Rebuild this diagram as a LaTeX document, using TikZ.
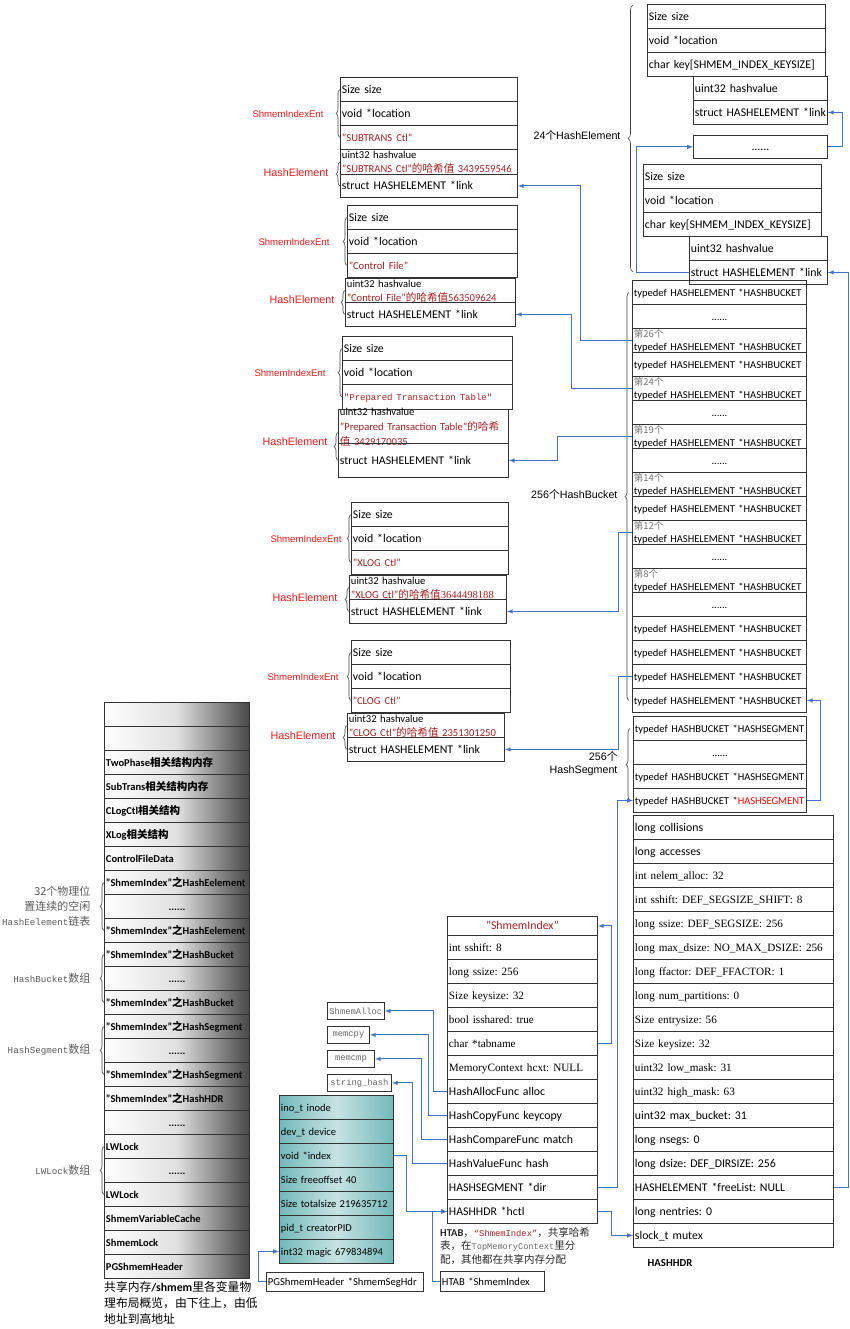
\documentclass[tikz,border=0pt]{standalone}
\usepackage{fontspec}
\setmainfont{Carlito}
\newfontfamily\tnr{Liberation Serif}
\newfontfamily\arial{Liberation Sans}
\newfontfamily\mono{Liberation Mono}
\newfontfamily\cjk{Noto Sans CJK SC}
\usetikzlibrary{decorations.pathreplacing}
\definecolor{linkblue}{RGB}{68,114,196}
\definecolor{keyred}{RGB}{165,30,30}
\definecolor{labred}{RGB}{240,25,25}
\frenchspacing
\newcommand\bkt{typedef HASHELEMENT *HASHBUCKET}
\newcommand\sgt{typedef HASHBUCKET *HASHSEGMENT}
\newcommand\bkn[1]{{\cjk\color{black!55}\fontsize{9.5}{10}\selectfont 第#1个}\\\bkt}
\newcommand\dotrow{\makebox[\hsize]{......}}
\newcommand\tn{\tnr\fontsize{11.2}{13}\selectfont}
\newcommand\kr[1]{\textcolor{keyred}{\fontsize{10.6}{14}\selectfont #1}}
\newcommand\shi[1]{"ShmemIndex"{\cjk 之}#1}
\newcommand\sunl[1]{{\mono\fontsize{9.2}{11}\selectfont #1}}
\begin{document}
\begin{tikzpicture}[x=1pt,y=-1pt,>=latex,font=\fontsize{11.8}{14}\selectfont]
    \tikzstyle{cell} = [draw=black!80,line width=.9pt,anchor=north west,inner xsep=1.5pt,
        inner ysep=0pt,minimum height=24pt,text height=8pt,text depth=0pt,
        execute at begin node=\hbox\bgroup,execute at end node=\egroup]
    \tikzstyle{cell2} = [draw=black!80,line width=.9pt,anchor=north west,inner xsep=1.5pt,
        inner ysep=0pt,minimum height=24pt,align=left]
    \tikzstyle{hashrow} = [cell2,font=\fontsize{10.6}{14}\selectfont,text height=8.5pt,text depth=14.5pt]
    \tikzstyle{memrow} = [cell,text width=142pt,left color=white,right color=black!72,
        middle color=black!12,font=\bfseries\fontsize{10.5}{12}\selectfont,text height=7.5pt]
    \tikzstyle{pgrow} = [cell,text width=111pt,left color=teal!55!white,right color=teal!55!white,
        middle color=teal!22!white,font=\fontsize{10.5}{12}\selectfont,text height=7.5pt]
    \tikzstyle{fnbox} = [draw=black!80,line width=.9pt,anchor=north west,inner xsep=2pt,inner ysep=0pt,
        minimum height=17pt,text=black!60,font=\mono\fontsize{8.8}{10}\selectfont]
    \tikzstyle{link} = [draw=linkblue,line width=1pt,->]
    \tikzstyle{brc} = [draw=black!75,line width=.6pt,decorate,decoration={brace,amplitude=4pt}]
    \tikzstyle{entlab} = [anchor=east,text=labred,font=\arial\fontsize{9.6}{11}\selectfont]
    \tikzstyle{elemlab} = [anchor=east,text=labred,font=\arial\fontsize{10.8}{12}\selectfont]
    \tikzstyle{sidelab} = [anchor=east,align=right,font=\arial\fontsize{10.7}{13}\selectfont]
    \tikzstyle{sunlab} = [anchor=east,align=right,text=black!65,font=\cjk\fontsize{11}{15}\selectfont]
    \useasboundingbox (0,0) rectangle (850,1329);

    % free HashElement chain, top right
    \node[cell,text width=175pt] (ta1) at (647,4) {Size size};
    \node[cell,text width=175pt] (ta2) at (647,28) {void *location};
    \node[cell,text width=175pt] (ta3) at (647,52) {char key[SHMEM\_INDEX\_KEYSIZE]};
    \node[cell,text width=131pt] (tb1) at (693,76) {uint32 hashvalue};
    \node[cell,text width=131pt] (tb2) at (693,100) {struct HASHELEMENT *link};
    \node[cell,text width=131pt,minimum height=23pt] (tdots) at (693,135) {\dotrow};
    \node[cell,text width=175pt] (tc1) at (643,164) {Size size};
    \node[cell,text width=175pt] (tc2) at (643,188) {void *location};
    \node[cell,text width=175pt] (tc3) at (643,212) {char key[SHMEM\_INDEX\_KEYSIZE]};
    \node[cell,text width=135pt] (td1) at (689,236) {uint32 hashvalue};
    \node[cell,text width=135pt] (td2) at (689,260) {struct HASHELEMENT *link};
    \draw[brc,decoration={brace,amplitude=5pt}] (633,272) -- (633,5);
    \node[sidelab] (l24) at (624,135) {24{\cjk 个}HashElement};

    % buckets and segments
    \foreach \t/\h/\d [count=\i] in {\bkt/8/0,\dotrow/8/0,\bkn{26}/9/14,\bkt/8/0,\bkn{24}/9/14,
            \dotrow/8/0,\bkn{19}/9/14,\dotrow/8/0,\bkn{14}/9/14,\bkt/8/0,\bkn{12}/9/14,\dotrow/8/0,
            \bkn{8}/9/14,\dotrow/8/0,\bkt/8/0,\bkt/8/0,\bkt/8/0,\bkt/8/0}
        \node[cell2,text width=171pt,font=\fontsize{10.5}{12.5}\selectfont,text height=\h pt,
            text depth=\d pt] (bk\i) at (632,{280+24*(\i-1)}) {\t};
    \foreach \t [count=\i] in {\sgt,\dotrow,\sgt,{typedef HASHBUCKET *\textcolor{red}{HASHSEGMENT}}}
        \node[cell,text width=170pt,font=\fontsize{10.5}{12}\selectfont] (sg\i) at (633,{716+24*(\i-1)}) {\t};
    \draw[brc] ([xshift=-3pt]bk18.west) -- ([xshift=-3pt]bk1.west);
    \draw[brc] ([xshift=-3pt]sg4.west) -- ([xshift=-3pt]sg1.west);
    \node[sidelab] (lbk) at (621,494) {256{\cjk 个}HashBucket};
    \node[sidelab] (lsg) at (621,764) {256{\cjk 个}\\HashSegment};

    % HASHHDR
    \foreach \t [count=\i] in {long collisions,long accesses,{\tn int nelem\_alloc: 32},
            {\tn int sshift: DEF\_SEGSIZE\_SHIFT: 8},{\tn long ssize: DEF\_SEGSIZE: 256},
            {\tn long max\_dsize: NO\_MAX\_DSIZE: 256},{\tn long ffactor: DEF\_FFACTOR: 1},
            {\tn long num\_partitions: 0},{\tn Size entrysize: 56},{\tn Size keysize: 32},
            {\tn uint32 low\_mask: 31},{\tn uint32 high\_mask: 63},uint32 max\_bucket: 31,
            long nsegs: 0,long dsize: DEF\_DIRSIZE: 256,HASHELEMENT *freeList: NULL,
            long nentries: 0,slock\_t mutex}
        \node[cell,text width=197pt] (hh\i) at (633,{815+24*(\i-1)}) {\t};
    \node[font=\bfseries\fontsize{10.7}{12}\selectfont] (hcap) at (670,1263) {HASHHDR};

    % HashElement entries of ShmemIndex
    \node[cell,text width=174pt] (s1a) at (340,77) {Size size};
    \node[cell,text width=174pt] (s1b) at (340,101) {void *location};
    \node[cell,text width=174pt] (s1c) at (340,125) {\kr{"SUBTRANS Ctl"}};
    \node[hashrow,text width=174pt,minimum height=25pt] (s1h) at (340,149)
        {uint32 hashvalue\\\textcolor{keyred}{"SUBTRANS Ctl"{\cjk 的哈希值} 3439559546}};
    \node[cell,text width=174pt,minimum height=23pt] (s1l) at (340,174) {struct HASHELEMENT *link};
    \draw[brc] (s1c.west) -- (s1a.west);
    \draw[brc] (s1l.west) -- (s1h.west);
    \node[entlab] (e1) at (327,114) {ShmemIndexEnt};
    \node[elemlab] (h1) at (332,173) {HashElement};

    \node[cell,text width=167pt] (c2a) at (347,205) {Size size};
    \node[cell,text width=167pt] (c2b) at (347,229) {void *location};
    \node[cell,text width=167pt] (c2c) at (347,253) {\kr{"Control File"}};
    \node[hashrow,text width=167pt] (c2h) at (345,278)
        {uint32 hashvalue\\\textcolor{keyred}{"Control File"{\cjk 的哈希值}563509624}};
    \node[cell,text width=167pt] (c2l) at (345,302) {struct HASHELEMENT *link};
    \draw[brc] (c2c.west) -- (c2a.west);
    \draw[brc] (c2l.west) -- (c2h.west);
    \node[entlab] (e2) at (333,242) {ShmemIndexEnt};
    \node[elemlab] (h2) at (338,300) {HashElement};

    \node[cell,text width=167pt] (p3a) at (342,336) {Size size};
    \node[cell,text width=167pt] (p3b) at (342,360) {void *location};
    \node[cell,text width=167pt,minimum height=25pt] (p3c) at (342,384)
        {\kr{\mono\fontsize{9}{11}\selectfont"Prepared Transaction Table"}};
    \node[cell2,text width=167pt,minimum height=34pt,font=\fontsize{10.6}{15}\selectfont,
        text height=6pt,text depth=28pt] (p3h) at (338,409)
        {uint32 hashvalue\\\textcolor{keyred}{"Prepared Transaction Table"{\cjk 的哈希}}\\
        \textcolor{keyred}{{\cjk 值} 3429170035}};
    \node[cell,text width=167pt,minimum height=34pt] (p3l) at (338,443) {struct HASHELEMENT *link};
    \draw[brc] (p3c.west) -- (p3a.west);
    \draw[brc] (p3l.west) -- ([yshift=-6pt]p3h.west);
    \node[entlab] (e3) at (329,373) {ShmemIndexEnt};
    \node[elemlab] (h3) at (331,442) {HashElement};

    \node[cell,text width=154pt] (x4a) at (351,502) {Size size};
    \node[cell,text width=154pt] (x4b) at (351,526) {void *location};
    \node[cell,text width=154pt] (x4c) at (351,550) {\kr{"XLOG Ctl"}};
    \node[hashrow,text width=154pt] (x4h) at (349,575)
        {uint32 hashvalue\\\textcolor{keyred}{"XLOG Ctl"{\cjk 的哈希值}{\tnr 3644498188}}};
    \node[cell,text width=154pt] (x4l) at (349,599) {struct HASHELEMENT *link};
    \draw[brc] (x4c.west) -- (x4a.west);
    \draw[brc] (x4l.west) -- (x4h.west);
    \node[entlab] (e4) at (345,539) {ShmemIndexEnt};
    \node[elemlab] (h4) at (341,598) {HashElement};

    \node[cell,text width=156pt] (g5a) at (351,640) {Size size};
    \node[cell,text width=156pt] (g5b) at (351,664) {void *location};
    \node[cell,text width=156pt] (g5c) at (351,688) {\kr{"CLOG Ctl"}};
    \node[hashrow,text width=154pt] (g5h) at (347,713)
        {uint32 hashvalue\\\textcolor{keyred}{"CLOG Ctl"{\cjk 的哈希值} 2351301250}};
    \node[cell,text width=154pt] (g5l) at (347,737) {struct HASHELEMENT *link};
    \draw[brc] (g5c.west) -- (g5a.west);
    \draw[brc] (g5l.west) -- (g5h.west);
    \node[entlab] (e5) at (342,677) {ShmemIndexEnt};
    \node[elemlab] (h5) at (339,736) {HashElement};

    % HTAB of ShmemIndex
    \node[cell,text width=147pt,minimum height=19pt] (ht0) at (447,916)
        {\makebox[\hsize]{\textcolor{keyred}{"ShmemIndex"}}};
    \foreach \t [count=\i] in {{\tn int sshift: 8},{\tn long ssize: 256},{\tn Size keysize: 32},
            {\tn bool isshared: true},{\tn char *tabname},{\tn MemoryContext hcxt: NULL},
            HashAllocFunc alloc,HashCopyFunc keycopy,HashCompareFunc match,HashValueFunc hash,
            HASHSEGMENT *dir,HASHHDR *hctl}
        \node[cell,text width=147pt] (ht\i) at (447,{935+24*(\i-1)}) {\t};
    \node[anchor=north west,align=left,inner sep=0pt,text=black!85,font=\cjk\fontsize{10.5}{13.5}\selectfont]
        (tcap) at (440,1227) {{\rmfamily\bfseries HTAB}，\textcolor{keyred}{\mono\fontsize{8.8}{10}\selectfont “ShmemIndex”}，共享哈希\\
        表，在{\mono\fontsize{8.6}{10}\selectfont\color{black!60}TopMemoryContext}里分\\配，其他都在共享内存分配};
    \node[fnbox,minimum width=56pt] (fa) at (327,1002) {ShmemAlloc};
    \node[fnbox,minimum width=42pt] (fc) at (327,1026) {memcpy};
    \node[fnbox,minimum width=47pt] (fm) at (327,1050) {memcmp};
    \node[fnbox,minimum width=64pt] (fh) at (327,1074) {string\_hash};
    \node[cell,text width=101pt,minimum height=20pt,font=\fontsize{10.6}{12}\selectfont,text height=7.5pt]
        (hs) at (440,1271) {HTAB *ShmemIndex};

    % PGShmemHeader
    \foreach \t [count=\i] in {ino\_t inode,dev\_t device,void *index,Size freeoffset 40,
            Size totalsize 219635712,pid\_t creatorPID,int32 magic 679834894}
        \node[pgrow] (pg\i) at (279,{1095+24*(\i-1)}) {\t};
    \node[cell,text width=154pt,minimum height=19pt,font=\fontsize{10.6}{12}\selectfont,text height=7.5pt]
        (sh) at (266,1272) {PGShmemHeader *ShmemSegHdr};

    % shared memory layout
    \foreach \t [count=\i from 0] in {{},{},TwoPhase{\cjk 相关结构内存},SubTrans{\cjk 相关结构内存},
            CLogCtl{\cjk 相关结构},XLog{\cjk 相关结构},ControlFileData,\shi{HashEelement},\dotrow,
            \shi{HashEelement},\shi{HashBucket},\dotrow,\shi{HashBucket},\shi{HashSegment},\dotrow,
            \shi{HashSegment},\shi{HashHDR},\dotrow,LWLock,\dotrow,LWLock,ShmemVariableCache,
            ShmemLock,PGShmemHeader}
        \node[memrow] (ms\i) at (104,{702+24*\i}) {\t};
    \draw[brc] (ms9.west) -- (ms7.west);
    \draw[brc] (ms12.west) -- (ms10.west);
    \draw[brc] (ms15.west) -- (ms13.west);
    \draw[brc] (ms20.west) -- (ms18.west);
    \node[sunlab] (lfree) at (94,906) {32个物理位\\置连续的空闲\\\sunl{HashEelement}链表};
    \node[sunlab] (lbkt) at (94,978) {\sunl{HashBucket}数组};
    \node[sunlab] (lseg) at (94,1050) {\sunl{HashSegment}数组};
    \node[sunlab] (llw) at (94,1170) {\sunl{LWLock}数组};
    \node[anchor=north west,align=left,inner sep=0pt,font=\cjk\fontsize{11.8}{16}\selectfont]
        (mcap) at (104,1281) {共享内存{\rmfamily\bfseries /shmem}里各变量物\\理布局概览，由下往上，由低\\地址到高地址};

    % pointers
    \draw[link] (tdots.east) -- ++(15,0) |- (tb2.east);
    \draw[link] (td2.west) -- ++(-53,0) |- (tdots.west);
    \draw[link] (hh16.east) -- ++(15,0) |- (td2.east);
    \draw[link] (bk3.west) -- ++(-52,0) |- (s1l.east);
    \draw[link] (bk5.west) -- ++(-61,0) |- (c2l.east);
    \draw[link] (bk7.west) -- ++(-75,0) |- (p3l.east);
    \draw[link] (bk11.west) -- ++(-14,0) |- (x4l.east);
    \draw[link] (bk17.west) -- ++(-14,0) |- (g5l.east);
    \draw[link] (sg4.east) -- ++(14,0) |- (bk18.east);
    \draw[link] (ht5.east) -- ++(14,0) |- (ht0.east);
    \draw[link] (ht11.east) -- ++(20,0) |- (sg4.west);
    \draw[link] (ht12.east) -- ++(14,0) |- (hh18.west);
    \draw[link] (ht7.west) -- ++(-14,0) |- (fa.east);
    \draw[link] (ht8.west) -- ++(-19,0) |- (fc.east);
    \draw[link] (ht9.west) -- ++(-26,0) |- (fm.east);
    \draw[link] (ht10.west) -- ++(-35,0) |- (fh.east);
    \draw[link] (pg3.east) -- ++(13,0) |- (ht12.west);
    \draw[link] (hs.west) -- ++(-8,0) |- (ht12.west);
    \draw[link] (sh.west) -- ++(-8,0) |- (pg7.west);
\end{tikzpicture}
\end{document}
